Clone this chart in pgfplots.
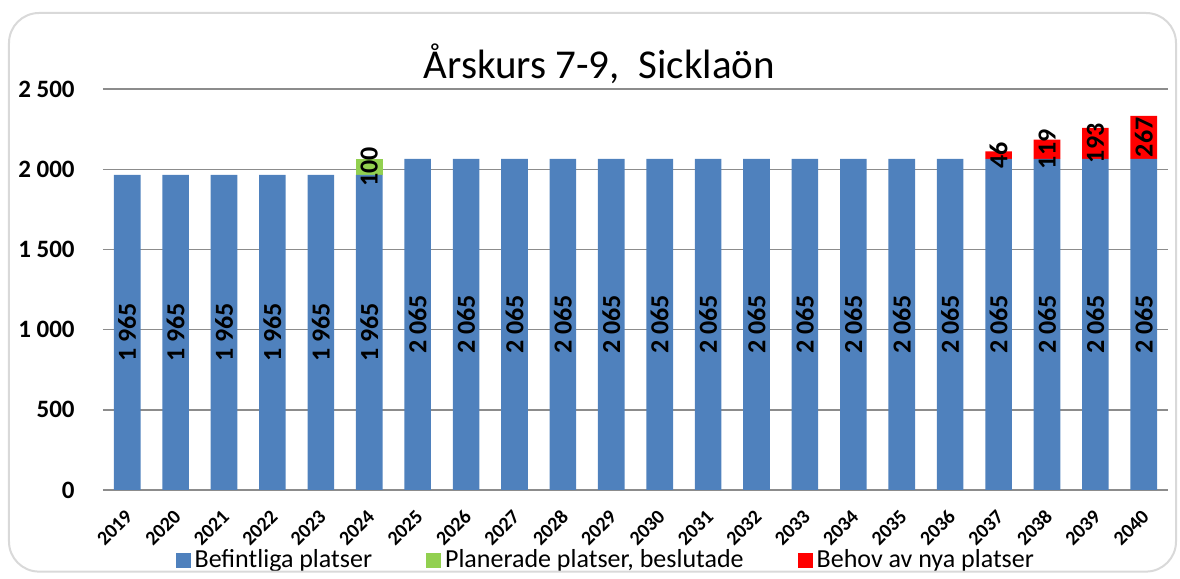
\documentclass[border=0pt]{standalone}
\usepackage{pgfplots}
\usepackage{pgfplotstable}
\pgfplotsset{compat=1.18}
\usepackage{fontspec}
\setmainfont{Carlito}
\definecolor{cblue}{HTML}{4F81BD}
\definecolor{cgreen}{HTML}{92D050}
\definecolor{cred}{HTML}{FF0000}
\definecolor{cgrid}{HTML}{8C8C8C}
\definecolor{cframe}{HTML}{D9D9D9}

\pgfplotstableread{
x year a b c
0 2019 1965 0 0
1 2020 1965 0 0
2 2021 1965 0 0
3 2022 1965 0 0
4 2023 1965 0 0
5 2024 1965 100 0
6 2025 2065 0 0
7 2026 2065 0 0
8 2027 2065 0 0
9 2028 2065 0 0
10 2029 2065 0 0
11 2030 2065 0 0
12 2031 2065 0 0
13 2032 2065 0 0
14 2033 2065 0 0
15 2034 2065 0 0
16 2035 2065 0 0
17 2036 2065 0 0
18 2037 2065 0 46
19 2038 2065 0 119
20 2039 2065 0 193
21 2040 2065 0 267
}\data

\begin{document}
\begin{tikzpicture}
\begin{axis}[
  at={(0,0)}, anchor=south west,
  scale only axis,
  width=532.5pt, height=200.5pt,
  xmin=-0.5, xmax=21.5,
  ymin=0, ymax=2500,
  ybar stacked,
  bar width=13.3pt,
  ytick={0,500,1000,1500,2000,2500},
  xtick=data,
  xticklabels={2019,2020,2021,2022,2023,2024,2025,2026,2027,2028,2029,2030,2031,2032,2033,2034,2035,2036,2037,2038,2039,2040},
  /pgf/number format/assume math mode=true,
  /pgf/number format/1000 sep={\ },
  axis line style={draw=none},
  major tick length=0pt,
  ymajorgrids,
  grid style={cgrid, line width=0.7pt},
  yticklabel style={font=\bfseries\fontsize{12.5}{14}\selectfont, anchor=east, inner sep=0pt, xshift=-14pt},
  xticklabel style={font=\bfseries\fontsize{10}{12}\selectfont, xshift=1pt, yshift=-11.5pt, rotate=45, anchor=east, inner sep=0pt},
  title={Årskurs 7-9,\ \ Sicklaön},
  title style={at={(0.466,0.997)}, anchor=base, font=\fontsize{20.5}{24}\selectfont},
  legend style={at={(0.473,-0.175)}, anchor=center, draw=none, fill=none, legend columns=3,
    font=\fontsize{13}{15}\selectfont,
    /tikz/every even column/.append style={column sep=25pt}},
  legend image code/.code={\fill[#1] (0pt,-3.75pt) rectangle (7.5pt,3.75pt);},
  nodes near coords={\pgfmathfloatifflags{\pgfplotspointmeta}{0}{}{\pgfmathprintnumber{\pgfplotspointmeta}}},
  every node near coord/.append style={font=\bfseries\fontsize{13}{14}\selectfont, text=black, rotate=90, anchor=center, inner sep=0pt},
]
\addplot[fill=cblue, draw=none, point meta=\thisrow{a}] table[x=x, y=a]{\data};
\addlegendentry{Befintliga platser}
\addplot[fill=cgreen, draw=none, point meta=\thisrow{b}] table[x=x, y=b]{\data};
\addlegendentry{Planerade platser, beslutade}
\addplot[fill=cred, draw=none, point meta=\thisrow{c}] table[x=x, y=c]{\data};
\addlegendentry{Behov av nya platser}
\end{axis}
\draw[overlay, cframe, line width=1pt, rounded corners=15pt] (-47pt,238.5pt) rectangle (536.5pt,-40.8pt);
\path (-51.5pt,-42pt) rectangle (538.5pt,245pt);
\end{tikzpicture}
\end{document}
